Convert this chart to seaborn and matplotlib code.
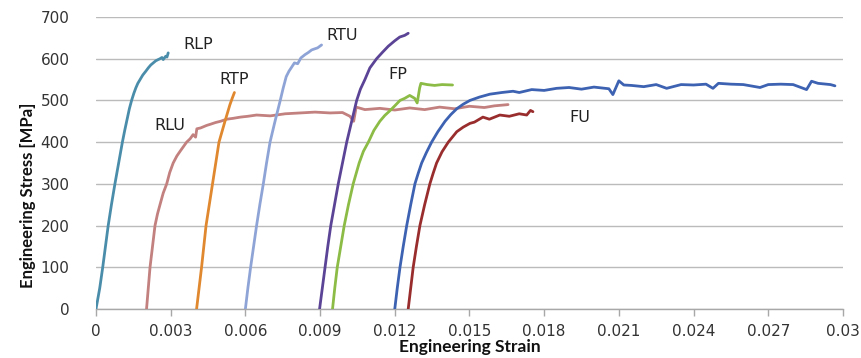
import numpy as np
import pandas as pd
import matplotlib
matplotlib.use("Agg")
import matplotlib.pyplot as plt
import seaborn as sns

# ---------------- data ----------------
rlp_strain = [0.0, 0.00015, 0.00027, 0.00038, 0.00049, 0.00062, 0.00076, 0.00091, 0.00106, 0.00116,
              0.00125, 0.00134, 0.00143, 0.00152, 0.00160, 0.00168, 0.00177, 0.00188, 0.00200,
              0.00210, 0.00220, 0.00230, 0.00240, 0.00250, 0.00257, 0.00265, 0.00270, 0.00280,
              0.00285, 0.00290]
rlp_stress = [0, 50, 100, 150, 200, 250, 300, 350, 400, 430, 455, 480, 500, 517, 530, 541, 550, 561,
              570, 578, 585, 590, 595, 598, 600, 603, 598, 606, 604, 614]

rlu_strain = [0.00203, 0.00210, 0.00217, 0.00227, 0.00237, 0.00247, 0.00257, 0.00270, 0.00284,
              0.00296, 0.00310, 0.00325, 0.00340, 0.00352, 0.00364, 0.00378, 0.00390, 0.00400,
              0.00405, 0.00420, 0.00444, 0.00460, 0.00480, 0.00500, 0.00525, 0.00550, 0.00580,
              0.00610, 0.00645, 0.00700, 0.00760, 0.00820, 0.00880, 0.00940, 0.00990, 0.01020,
              0.01035, 0.01045, 0.01080, 0.01140, 0.01200, 0.01260, 0.01320, 0.01380, 0.01440,
              0.01500, 0.01560, 0.01600, 0.01655]
rlu_stress = [0, 50, 100, 150, 200, 228, 250, 278, 300, 327, 350, 367, 380, 390, 400, 408, 418, 412,
              432, 434, 440, 443, 447, 450, 455, 457, 460, 462, 465, 463, 468, 470, 472, 470, 471,
              462, 450, 484, 478, 481, 477, 482, 478, 484, 480, 486, 483, 487, 490]

rtp_strain = [0.00404, 0.00414, 0.00424, 0.00433, 0.00442, 0.00455, 0.00468, 0.00481, 0.00494,
              0.00506, 0.00518, 0.00528, 0.00538, 0.00547, 0.00556]
rtp_stress = [0, 50, 100, 150, 200, 250, 300, 350, 400, 425, 450, 470, 490, 505, 519]

rtu_a_strain = [0.00600, 0.00610, 0.00621, 0.00633, 0.00645, 0.00658, 0.00672, 0.00685, 0.00699,
                0.00719, 0.00740, 0.00752, 0.00764, 0.00775, 0.00786, 0.00797, 0.00810, 0.00823,
                0.00840, 0.00853, 0.00866, 0.00880, 0.00890, 0.00906]
rtu_a_stress = [0, 50, 100, 150, 200, 250, 300, 350, 400, 450, 500, 530, 557, 570, 580, 590, 588,
                602, 610, 615, 621, 624, 626, 633]

rtu_b_strain = [0.00898, 0.00909, 0.00920, 0.00931, 0.00943, 0.00958, 0.00973, 0.00990, 0.01007,
                0.01027, 0.01047, 0.01062, 0.01080, 0.01100, 0.01127, 0.01150, 0.01174, 0.01200,
                0.01220, 0.01240, 0.01254]
rtu_b_stress = [0, 50, 100, 150, 200, 250, 300, 350, 400, 450, 500, 527, 550, 578, 600, 615, 630,
                643, 652, 656, 661]

fp_strain = [0.00950, 0.00959, 0.00969, 0.00983, 0.00997, 0.01014, 0.01033, 0.01057, 0.01074,
             0.01094, 0.01116, 0.01140, 0.01160, 0.01180, 0.01200, 0.01221, 0.01240, 0.01260,
             0.01280, 0.01290, 0.01300, 0.01305, 0.01330, 0.01360, 0.01390, 0.01432]
fp_stress = [0, 50, 100, 150, 200, 250, 300, 350, 378, 400, 428, 450, 464, 475, 487, 500, 505, 512,
             505, 494, 530, 541, 538, 536, 538, 537]

fu_a_strain = [0.01200, 0.01210, 0.01221, 0.01234, 0.01248, 0.01264, 0.01281, 0.01294, 0.01308,
               0.01327, 0.01348, 0.01373, 0.01402, 0.01425, 0.01449, 0.01475, 0.01502, 0.01540,
               0.01582, 0.01630, 0.01675, 0.01700, 0.01750, 0.01800, 0.01850, 0.01900, 0.01950,
               0.02000, 0.02060, 0.02076, 0.02100, 0.02120, 0.02150, 0.02200, 0.02250, 0.02292,
               0.02350, 0.02400, 0.02450, 0.02478, 0.02500, 0.02550, 0.02600, 0.02667, 0.02700,
               0.02750, 0.02800, 0.02854, 0.02874, 0.02900, 0.02950, 0.02968]
fu_a_stress = [0, 50, 100, 150, 200, 250, 300, 325, 350, 375, 400, 425, 450, 466, 480, 491, 500, 508,
               515, 519, 522, 519, 526, 524, 529, 531, 527, 532, 528, 514, 547, 537, 536, 533, 538,
               529, 538, 537, 539, 529, 541, 539, 538, 531, 538, 539, 538, 526, 546, 541, 538, 535]

fu_b_strain = [0.01254, 0.01264, 0.01274, 0.01287, 0.01301, 0.01320, 0.01341, 0.01354, 0.01368,
               0.01390, 0.01415, 0.01449, 0.01475, 0.01502, 0.01520, 0.01554, 0.01580, 0.01622,
               0.01660, 0.01700, 0.01730, 0.01745, 0.01755]
fu_b_stress = [0, 50, 100, 150, 200, 250, 300, 325, 350, 377, 400, 425, 436, 445, 448, 460, 455, 465,
               462, 468, 465, 476, 473]

curve_names = ["RLP", "RLU", "RTP", "RTU_a", "RTU_b", "FP", "FU_a", "FU_b"]
curve_colors = ["#4A8DAA", "#C2807F", "#E0882F", "#8FA4D6", "#5B4396", "#8CBB46", "#3D62B2", "#992D2D"]

label_texts = ["RLP", "RTP", "RLU", "RTU", "FP", "FU"]
label_x = [0.00410, 0.00554, 0.00297, 0.00990, 0.01213, 0.01944]
label_y = [633, 549, 441, 655, 563, 460]

x_ticks = [0, 0.003, 0.006, 0.009, 0.012, 0.015, 0.018, 0.021, 0.024, 0.027, 0.03]
x_tick_labels = ["0", "0.003", "0.006", "0.009", "0.012", "0.015", "0.018", "0.021", "0.024", "0.027", "0.03"]
y_ticks = [0, 100, 200, 300, 400, 500, 600, 700]

# ---------------- build table ----------------
series = [(rlp_strain, rlp_stress), (rlu_strain, rlu_stress), (rtp_strain, rtp_stress),
          (rtu_a_strain, rtu_a_stress), (rtu_b_strain, rtu_b_stress), (fp_strain, fp_stress),
          (fu_a_strain, fu_a_stress), (fu_b_strain, fu_b_stress)]
frames = []
for name, (sx, sy) in zip(curve_names, series):
    frames.append(pd.DataFrame({"strain": sx, "stress": sy, "curve": name}))
df = pd.concat(frames, ignore_index=True)

# ---------------- plot ----------------
sns.set_theme(style="white")
plt.rcParams["font.family"] = ["DejaVu Sans"]

fig = plt.figure(figsize=(8.61, 3.58), dpi=100)
ax = fig.add_axes([0.1115, 0.1369, 0.979 - 0.1115, 0.9525 - 0.1369])

sns.lineplot(data=df, x="strain", y="stress", hue="curve", hue_order=curve_names,
             palette=dict(zip(curve_names, curve_colors)), sort=False, estimator=None,
             linewidth=2.0, legend=False, ax=ax, zorder=3)

ax.set_xlim(0, 0.03)
ax.set_ylim(0, 700)
ax.set_xticks(x_ticks)
ax.set_xticklabels(x_tick_labels)
ax.set_yticks(y_ticks)
ax.yaxis.grid(True, color="#BBBBBB", linewidth=1.0)
ax.xaxis.grid(False)
for s in ["top", "right", "left"]:
    ax.spines[s].set_visible(False)
ax.spines["bottom"].set_color("#A8A8A8")
ax.spines["bottom"].set_linewidth(1.0)
ax.tick_params(axis="x", which="both", bottom=True, length=5, width=1, color="#A8A8A8",
               labelsize=11, labelcolor="#333333", pad=6)
ax.tick_params(axis="y", which="both", left=False, labelsize=11, labelcolor="#333333", pad=13)

ax.set_xlabel("Engineering Strain", fontsize=12.5, fontweight="bold", color="#111111",
              labelpad=0, family=["Lato", "DejaVu Sans"])
ax.set_ylabel("")
fig.text(28 / 861, 1 - 195 / 358, "Engineering Stress [MPa]", rotation=90, ha="center",
         va="center", fontsize=12, fontweight="bold", color="#111111", family=["Lato", "DejaVu Sans"])

for t, xv, yv in zip(label_texts, label_x, label_y):
    ax.text(xv, yv, t, fontsize=11.5, ha="center", va="center", color="#222222", zorder=5)

fig.savefig("out.png", dpi=100)
